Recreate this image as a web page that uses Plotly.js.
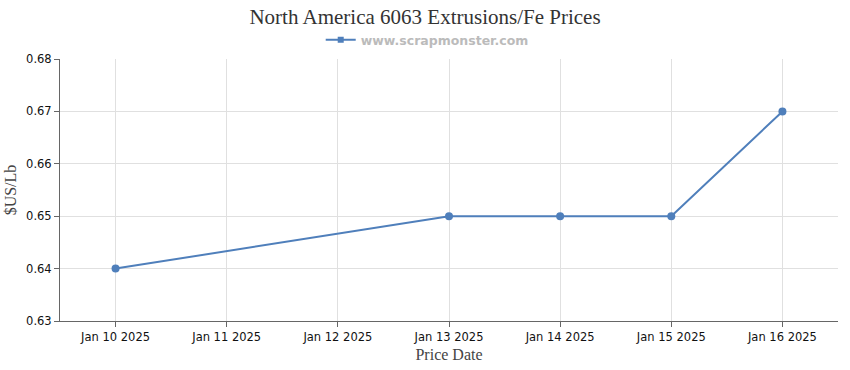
<!DOCTYPE html>
<html><head><meta charset="utf-8">
<script src="https://cdn.plot.ly/plotly-3.0.1.min.js"></script>
<style>body{margin:0;background:#fff}#c{width:850px;height:370px}</style>
</head><body><div id="c"></div>
<script>
const dates = ["2025-01-10","2025-01-13","2025-01-14","2025-01-15","2025-01-16"];
const prices = [0.64, 0.65, 0.65, 0.65, 0.67];
const tickDates = ["2025-01-10","2025-01-11","2025-01-12","2025-01-13","2025-01-14","2025-01-15","2025-01-16"];
const tickLabels = ["Jan 10 2025","Jan 11 2025","Jan 12 2025","Jan 13 2025","Jan 14 2025","Jan 15 2025","Jan 16 2025"];
const seriesName = "www.scrapmonster.com";
const color = "#4f7fbb";

const trace = {
  x: dates, y: prices, type: "scatter", mode: "lines+markers", name: seriesName,
  line: {color: color, width: 2},
  marker: {color: color, size: 8, symbol: "circle"},
  showlegend: false
};
const legendTrace = {
  x: [null], y: [null], type: "scatter", mode: "lines+markers", name: seriesName,
  line: {color: color, width: 2}, marker: {color: color, size: 6, symbol: "square"},
  showlegend: true, hoverinfo: "skip"
};
const layout = {
  width: 850, height: 370,
  margin: {l: 60, r: 12, t: 59, b: 49},
  paper_bgcolor: "#fff", plot_bgcolor: "#fff",
  title: {text: "North America 6063 Extrusions/Fe Prices", x: 0.5, xanchor: "center", y: 0.975, yanchor: "top",
          font: {family: "Liberation Serif, serif", size: 21, color: "#333"}},
  showlegend: true,
  legend: {orientation: "h", x: 0.472, xanchor: "center", y: 1.072, yanchor: "middle",
           font: {family: "DejaVu Sans, sans-serif", size: 12.5, color: "#bbb", weight: "bold"},
           itemwidth: 30, bgcolor: "rgba(0,0,0,0)"},
  xaxis: {
    type: "date", range: ["2025-01-09 12:00", "2025-01-16 12:00"],
    tickmode: "array", tickvals: tickDates, ticktext: tickLabels,
    showgrid: true, gridcolor: "#e0e0e0", gridwidth: 1,
    showline: true, linecolor: "#666", linewidth: 1,
    ticks: "outside", ticklen: 5, tickcolor: "#666",
    tickfont: {family: "DejaVu Sans, sans-serif", size: 11.5, color: "#111"},
    zeroline: false,
    title: {text: "Price Date", font: {family: "Liberation Serif, serif", size: 16, color: "#444"}, standoff: 6}
  },
  yaxis: {
    range: [0.63, 0.68], dtick: 0.01, tickformat: ".2f",
    showgrid: true, gridcolor: "#e0e0e0", gridwidth: 1,
    showline: true, linecolor: "#666", linewidth: 1,
    ticks: "outside", ticklen: 5, tickcolor: "#666",
    tickfont: {family: "DejaVu Sans, sans-serif", size: 11.5, color: "#111"},
    zeroline: false,
    title: {text: "$US/Lb", font: {family: "Liberation Serif, serif", size: 16, color: "#444"}, standoff: 5}
  }
};
Plotly.newPlot("c", [trace, legendTrace], layout, {displayModeBar: false, staticPlot: true});
</script></body></html>
